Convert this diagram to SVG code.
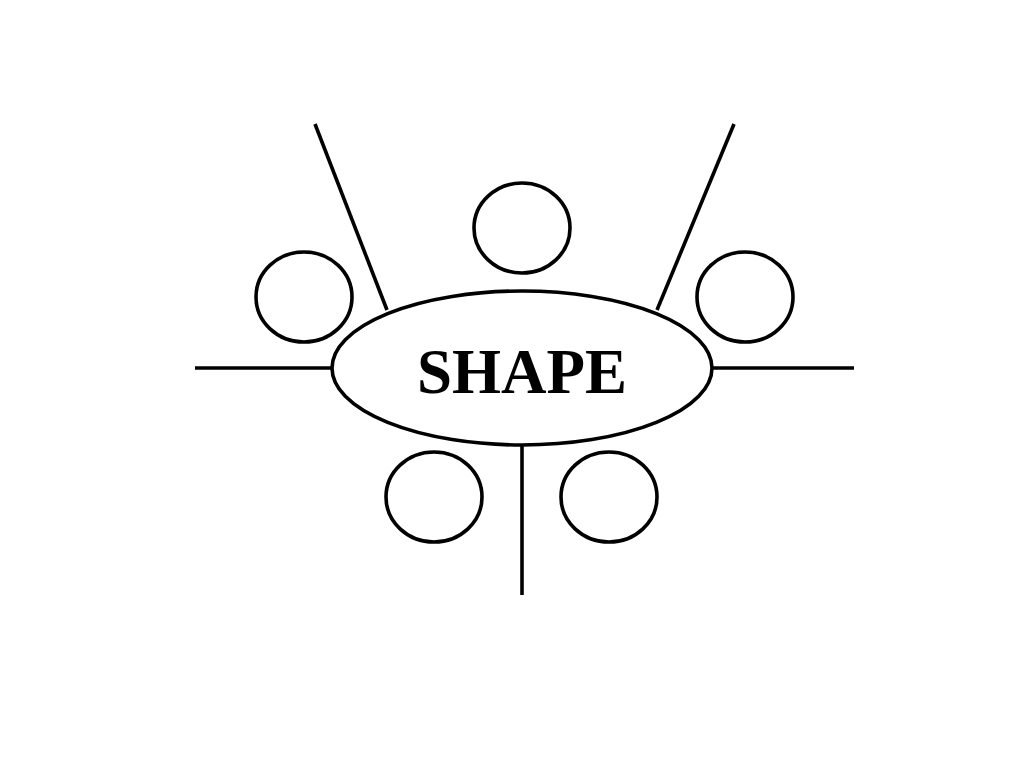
<svg xmlns="http://www.w3.org/2000/svg" width="1024" height="768" viewBox="0 0 1024 768">
<style>
.s{fill:none;stroke:#000;stroke-width:3.6}
.n{fill:#fff;stroke:#000;stroke-width:3.6}
.t{font-family:"Liberation Serif","Times New Roman",serif;font-weight:bold;font-size:63px;fill:#000}
</style>
<rect width="1024" height="768" fill="#fff"/>
<g id="connectors">
<line class="s" x1="195" y1="368" x2="333" y2="368"/>
<line class="s" x1="711" y1="368" x2="854" y2="368"/>
<line class="s" x1="522" y1="444" x2="522" y2="595"/>
<line class="s" x1="315" y1="124" x2="387" y2="310"/>
<line class="s" x1="734" y1="124" x2="657" y2="310"/>
</g>
<g id="center">
<ellipse class="n" cx="522" cy="368" rx="190" ry="77"/>
<text class="t" x="522" y="393" text-anchor="middle">SHAPE</text>
</g>
<g id="circle-top"><ellipse class="n" cx="522" cy="228" rx="48" ry="45"/></g>
<g id="circle-left"><ellipse class="n" cx="304" cy="297" rx="48" ry="45"/></g>
<g id="circle-right"><ellipse class="n" cx="745" cy="297" rx="48" ry="45"/></g>
<g id="circle-bottom-left"><ellipse class="n" cx="434" cy="497" rx="48" ry="45"/></g>
<g id="circle-bottom-right"><ellipse class="n" cx="609" cy="497" rx="48" ry="45"/></g>
</svg>
